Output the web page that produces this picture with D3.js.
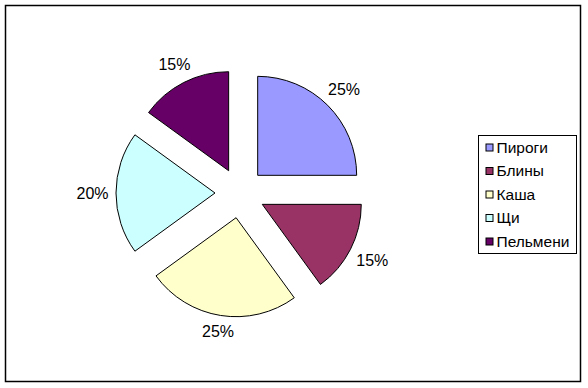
<!DOCTYPE html>
<html lang="ru">
	<head>
		<meta charset="utf-8">
		<title></title>
		<script src="https://d3js.org/d3.v7.min.js"></script>
		<style type="text/css">
body { margin: 0; background: #fff; }
text { font-family: "Liberation Sans", Arial, sans-serif; }
.slice { stroke: #000; stroke-width: 1px; }
		</style>
	</head>
	<body>
<svg width="588" height="388"></svg>

<script>

var categories = ["Пироги", "Блины", "Каша", "Щи", "Пельмени"];
var values = [25, 15, 25, 20, 15];
var colors = ["#9999FF", "#993366", "#FFFFCC", "#CCFFFF", "#660066"];

var svg = d3.select("svg");

// chart frame
svg.append("rect")
    .attr("x", 5.5).attr("y", 5.5)
    .attr("width", 575).attr("height", 376)
    .attr("fill", "#fff")
    .attr("stroke", "#000")
    .attr("stroke-width", 1.5);

var cx = 240, cy = 193, radius = 99, explode = 25;

var data = categories.map((c, i) => ({name: c, value: values[i], color: colors[i]}));
var total = d3.sum(values);
var fmt = d3.format(".0%");

var pie = d3.pie().sort(null).value(d => d.value);
var arc = d3.arc().innerRadius(0).outerRadius(radius);

var arcs = pie(data);

var g = svg.append("g").attr("transform", `translate(${cx}, ${cy})`);

var slice = g.selectAll("g.s")
  .data(arcs)
  .enter().append("g")
    .attr("transform", function(d) {
      var a = (d.startAngle + d.endAngle) / 2;
      return `translate(${Math.sin(a) * explode}, ${-Math.cos(a) * explode})`;
    });

slice.append("path")
    .attr("class", "slice")
    .attr("fill", d => d.data.color)
    .attr("d", arc);

// labels outside each slice, pushed out by half the label box
var fontSize = 16, halfW = 15.5, halfH = 6;
function labelPos(d) {
  var a = (d.startAngle + d.endAngle) / 2;
  var dx = Math.sin(a), dy = -Math.cos(a);
  var r = 107 + Math.abs(dx) * halfW + Math.abs(dy) * halfH;
  return [dx * r, dy * r];
}
slice.append("text")
    .attr("text-anchor", "middle")
    .attr("dy", "0.35em")
    .attr("font-size", fontSize)
    .attr("fill", "#000")
    .attr("x", d => labelPos(d)[0])
    .attr("y", d => labelPos(d)[1])
    .text(d => fmt(d.data.value / total));

// legend
var legend = svg.append("g").attr("transform", "translate(478.5, 135.5)");

legend.append("rect")
    .attr("width", 98).attr("height", 118)
    .attr("fill", "#fff")
    .attr("stroke", "#000")
    .attr("stroke-width", 1);

var item = legend.selectAll("g.item")
  .data(data)
  .enter().append("g")
    .attr("transform", (d, i) => `translate(0, ${12 + i * 23.5})`);

item.append("rect")
    .attr("x", 7.5).attr("y", -3.5)
    .attr("width", 7).attr("height", 7)
    .attr("fill", d => d.color)
    .attr("stroke", "#000")
    .attr("stroke-width", 1);

item.append("text")
    .attr("x", 18)
    .attr("dy", "0.35em")
    .attr("font-size", 15.5)
    .attr("fill", "#000")
    .text(d => d.name);

</script>

	</body>
</html>
